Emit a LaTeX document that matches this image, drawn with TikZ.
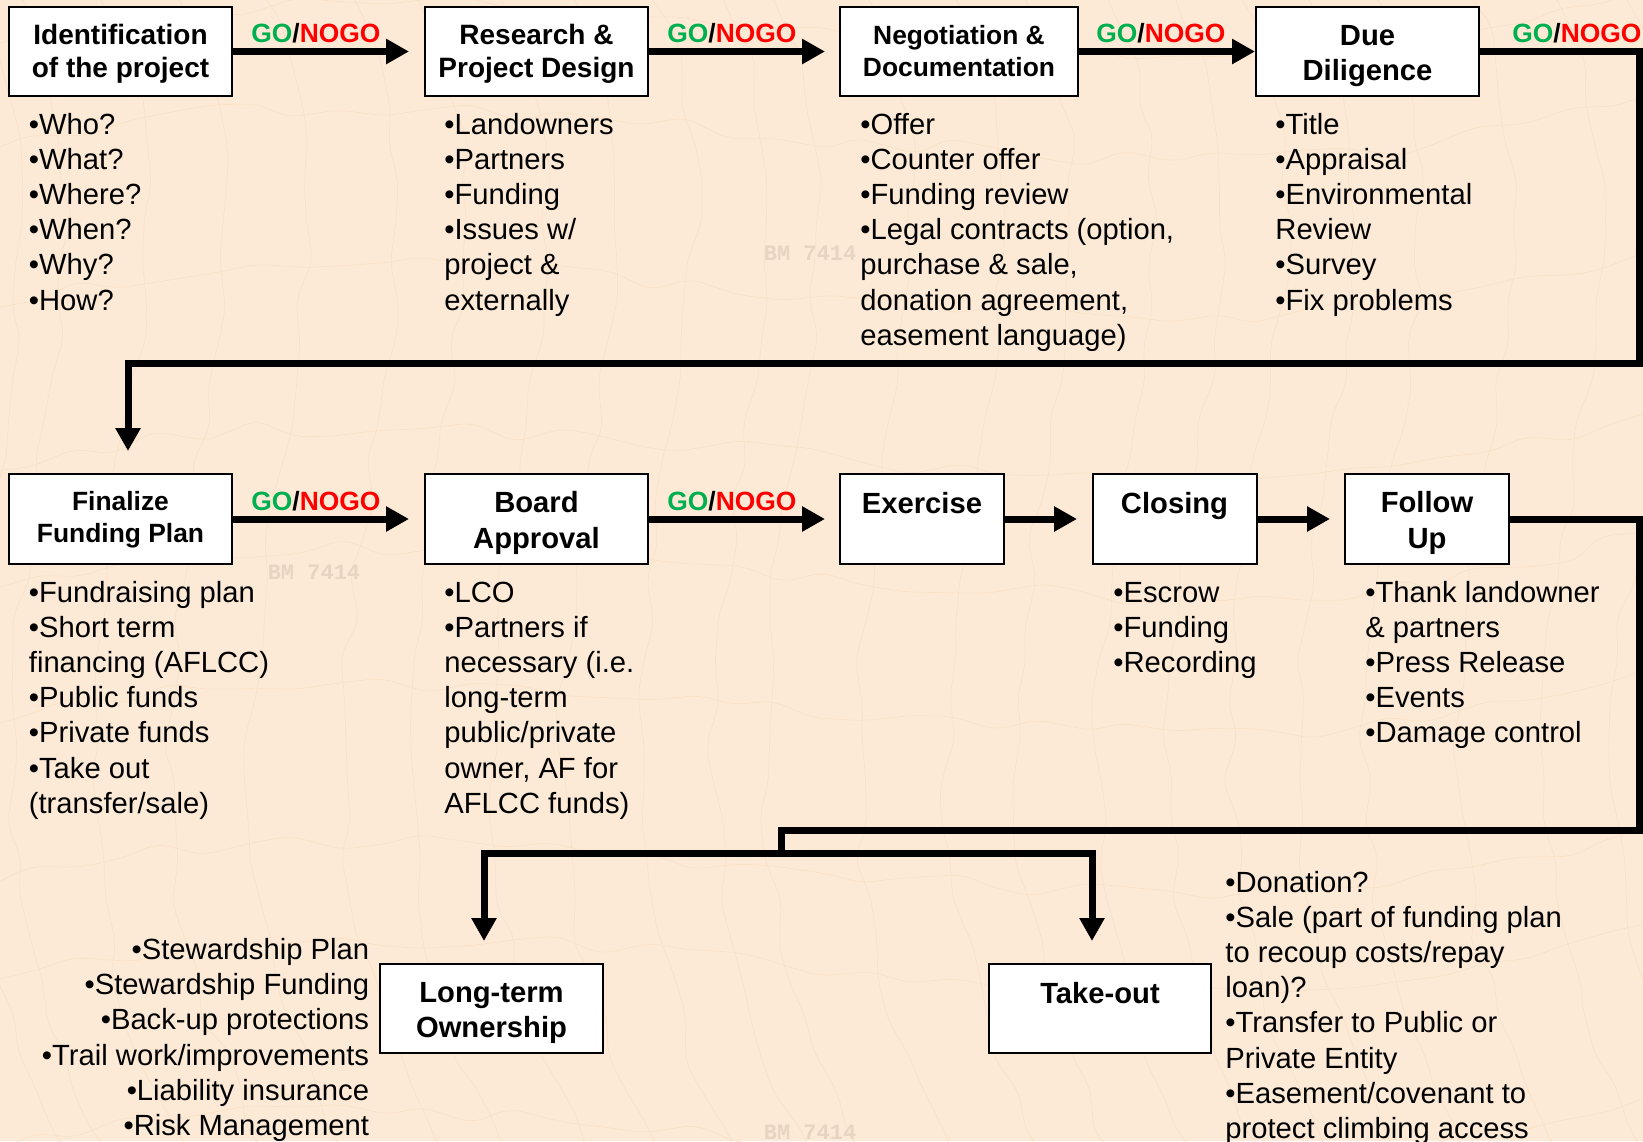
\documentclass[tikz,border=0pt]{standalone}
\usepackage{fontspec}
\setmainfont{Liberation Sans}
\setmonofont{Liberation Mono}
\usetikzlibrary{arrows.meta,decorations.pathmorphing}
\definecolor{paper}{HTML}{FDEAD6}
\definecolor{contour}{HTML}{F9E1C8}
\definecolor{gogreen}{HTML}{00B050}
\definecolor{nored}{HTML}{FF0000}
\newcommand{\gonogo}{\textcolor{gogreen}{GO}/\textcolor{nored}{NOGO}}
\newcommand{\blist}[1]{\begin{tabular}[t]{@{}l@{}}#1\end{tabular}}
\newcommand{\rlist}[1]{\begin{tabular}[t]{@{}r@{}}#1\end{tabular}}
\newcommand{\topfix}[1]{\rule{0pt}{#1}}
\tikzset{
  stagebox/.style={draw=black,line width=1pt,fill=white,inner sep=0pt,align=center,font=\bfseries\fontsize{14}{16.8}\selectfont},
  largebox/.style={stagebox,font=\bfseries\fontsize{14.6}{17.7}\selectfont},
  smallbox/.style={stagebox,font=\bfseries\fontsize{13.2}{16}\selectfont},
  bodylist/.style={inner sep=0pt,anchor=base west,font=\fontsize{14.6}{17.6}\selectfont},
  bodyright/.style={bodylist,anchor=base east},
  gotag/.style={inner sep=0pt,anchor=base west,font=\bfseries\fontsize{13.2}{15}\selectfont},
  flow/.style={line width=3.5pt,miter limit=10},
  flowtip/.style={flow,-{Triangle[length=11.5pt,width=12pt]}},
  maptext/.style={inner sep=0pt,text=black!9!paper,font=\ttfamily\bfseries\fontsize{11}{12}\selectfont}
}
\begin{document}
\begin{tikzpicture}[x=0.5pt,y=-0.5pt]
\useasboundingbox (0,0) rectangle (1643,1141);
\fill[paper] (0,0) rectangle (1643,1141);
\begin{scope}
\clip (0,0) rectangle (1643,1141);
\pgfmathsetseed{4217}
\foreach \i in {0,...,23}{
  \pgfmathsetmacro{\xs}{\i*75-60+rnd*40}
  \draw[contour,line width=.35pt,rounded corners=6pt,
        decorate,decoration={random steps,segment length=20pt,amplitude=4pt}]
    (\xs,-10) .. controls (\xs+160,300) and (\xs-150,700) .. (\xs+90,1150);
}
\foreach \i in {0,...,8}{
  \pgfmathsetmacro{\ys}{\i*140+rnd*60}
  \draw[contour,line width=.35pt,rounded corners=6pt,
        decorate,decoration={random steps,segment length=22pt,amplitude=5pt}]
    (-10,\ys) .. controls (500,\ys-140) and (1100,\ys+120) .. (1650,\ys-60);
}
\end{scope}
\node[maptext] (m1) at (810,253) {BM 7414};
\node[maptext] (m2) at (314,572) {BM 7414};
\node[maptext] (m3) at (810,1132) {BM 7414};

% boxes, row 1
\node[stagebox,minimum width=111.5pt,minimum height=44.5pt] (b1) at (120.5,51.5) {\topfix{12.4pt}Identification\\of the project};
\node[stagebox,minimum width=111.5pt,minimum height=44.5pt] (b2) at (536.5,51.5) {\topfix{12.4pt}Research \&\\Project Design};
\node[smallbox,minimum width=119pt,minimum height=44.5pt] (b3) at (959,51.5) {Negotiation \&\\Documentation};
\node[largebox,minimum width=111.5pt,minimum height=44.5pt] (b4) at (1367.5,51.5) {\topfix{14.5pt}Due\\Diligence};
% boxes, row 2
\node[smallbox,minimum width=111.5pt,minimum height=45pt] (b5) at (120.5,519) {\topfix{10.6pt}Finalize\\Funding Plan};
\node[largebox,minimum width=111.5pt,minimum height=45pt] (b6) at (536.5,519) {\topfix{14.5pt}Board\\Approval};
\node[largebox,minimum width=82pt,minimum height=45pt] (b7) at (922,519) {\topfix{12.5pt}Exercise\\\mbox{}};
\node[largebox,minimum width=82pt,minimum height=45pt] (b8) at (1174.5,519) {\topfix{12.5pt}Closing\\\mbox{}};
\node[largebox,minimum width=82pt,minimum height=45pt] (b9) at (1427,519) {\topfix{14.5pt}Follow\\Up};
% boxes, row 3
\node[largebox,minimum width=111.5pt,minimum height=44.5pt] (b10) at (491.5,1008.5) {\topfix{14.5pt}Long-term\\Ownership};
\node[largebox,minimum width=111pt,minimum height=44.5pt] (b11) at (1100,1008.5) {\topfix{12.5pt}Take-out\\\mbox{}};

% free ends of connectors
\coordinate (t1) at (409,51.5);
\coordinate (t2) at (825,51.5);
\coordinate (c4a) at (1639.5,51.5);
\coordinate (c4b) at (1639.5,363);
\coordinate (c4c) at (128,363);
\coordinate (t5) at (128,451);
\coordinate (t6) at (409,519);
\coordinate (t7) at (825,519);
\coordinate (t8) at (1077,519);
\coordinate (t9) at (1330,519);
\coordinate (c9a) at (1639.5,519);
\coordinate (c9b) at (1639.5,830);
\coordinate (c9c) at (781,830);
\coordinate (j) at (781,853);
\coordinate (jl) at (484,853);
\coordinate (jr) at (1092,853);
\coordinate (t10) at (484,941);
\coordinate (t11) at (1092,941);

% connectors
\draw[flowtip] (b1.east) -- (t1);
\draw[flowtip] (b2.east) -- (t2);
\draw[flowtip] (b3.east) -- (b4.west);
\draw[flowtip] (b4.east) -- (c4a) -- (c4b) -- (c4c) -- (t5);
\draw[flowtip] (b5.east) -- (t6);
\draw[flowtip] (b6.east) -- (t7);
\draw[flowtip] (b7.east) -- (t8);
\draw[flowtip] (b8.east) -- (t9);
\draw[flow] (b9.east) -- (c9a) -- (c9b) -- (c9c) -- (j);
\draw[flowtip] (j) -- (jl) -- (t10);
\draw[flowtip] (j) -- (jr) -- (t11);

% GO / NOGO labels
\node[gotag] (g1) at (251,42) {\gonogo};
\node[gotag] (g2) at (667,42) {\gonogo};
\node[gotag] (g3) at (1096,42) {\gonogo};
\node[gotag] (g4) at (1512,42) {\gonogo};
\node[gotag] (g5) at (251,510) {\gonogo};
\node[gotag] (g6) at (667,510) {\gonogo};

% lists, row 1
\node[bodylist] (l1) at (28.5,134) {\blist{•Who?\\•What?\\•Where?\\•When?\\•Why?\\•How?}};
\node[bodylist] (l2) at (444,134) {\blist{•Landowners\\•Partners\\•Funding\\•Issues w/\\project \&\\externally}};
\node[bodylist] (l3) at (860,134) {\blist{•Offer\\•Counter offer\\•Funding review\\•Legal contracts (option,\\purchase \& sale,\\donation agreement,\\easement language)}};
\node[bodylist] (l4) at (1275,134) {\blist{•Title\\•Appraisal\\•Environmental\\Review\\•Survey\\•Fix problems}};
% lists, row 2
\node[bodylist] (l5) at (28.5,602) {\blist{•Fundraising plan\\•Short term\\financing (AFLCC)\\•Public funds\\•Private funds\\•Take out\\(transfer/sale)}};
\node[bodylist] (l6) at (444,602) {\blist{•LCO\\•Partners if\\necessary (i.e.\\long-term\\public/private\\owner, AF for\\AFLCC funds)}};
\node[bodylist] (l8) at (1113,602) {\blist{•Escrow\\•Funding\\•Recording}};
\node[bodylist] (l9) at (1365,602) {\blist{•Thank landowner\\\& partners\\•Press Release\\•Events\\•Damage control}};
% lists, row 3
\node[bodyright] (l10) at (369.5,959.5) {\rlist{•Stewardship Plan\\•Stewardship Funding\\•Back-up protections\\•Trail work/improvements\\•Liability insurance\\•Risk Management}};
\node[bodylist] (l11) at (1225,892) {\blist{•Donation?\\•Sale (part of funding plan\\to recoup costs/repay\\loan)?\\•Transfer to Public or\\Private Entity\\•Easement/covenant to\\protect climbing access}};
\end{tikzpicture}
\end{document}
